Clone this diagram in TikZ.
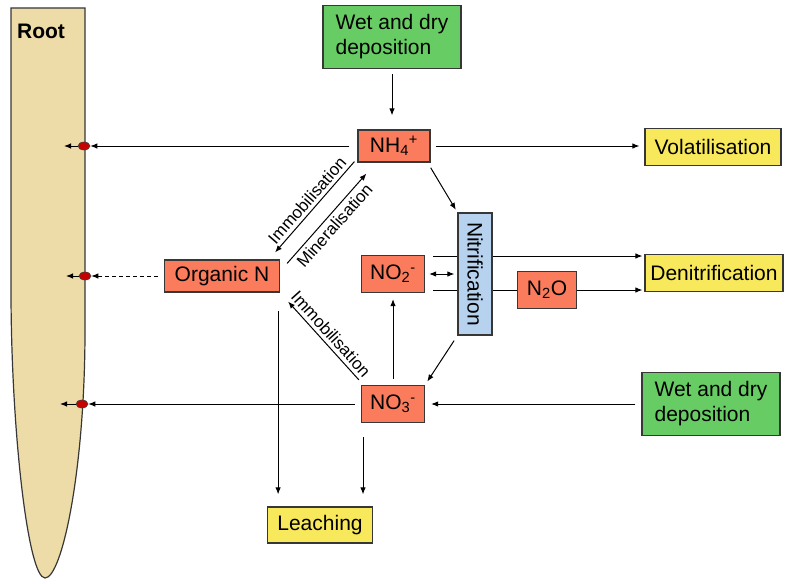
\documentclass[tikz,border=0pt]{standalone}
\usepackage{fontspec}
\setmainfont{Liberation Sans}
\usetikzlibrary{calc}
\usetikzlibrary{arrows.meta}
\usetikzlibrary{shapes.geometric}

\definecolor{rootfill}{RGB}{238,220,168}
\definecolor{wetgreen}{RGB}{104,204,100}
\definecolor{ionred}{RGB}{250,124,92}
\definecolor{lossyellow}{RGB}{248,232,92}
\definecolor{nitblue}{RGB}{182,210,238}
\definecolor{edgegray}{RGB}{55,55,55}

\tikzset{
  box/.style={draw=edgegray, line width=1.2pt, inner sep=0pt, font=\fontsize{21}{25}\selectfont, align=center},
  ion/.style={box, fill=ionred, minimum height=32pt},
  loss/.style={box, fill=lossyellow, minimum height=37pt},
  wet/.style={box, fill=wetgreen, minimum width=138pt, minimum height=63pt, align=left},
  flow/.style={-{Latex[length=7pt,width=5.5pt]}, line width=1pt},
  dot/.style={ellipse, draw=black!75, line width=0.6pt, fill=red!78!black, minimum width=12pt, minimum height=8pt, inner sep=0pt},
  proc/.style={font=\fontsize{17}{20}\selectfont, sloped, inner sep=3.5pt}
}

\begin{document}
\begin{tikzpicture}[x=1pt,y=-1pt]
\useasboundingbox (0,0) rectangle (786,583);

% the root
\draw[draw=edgegray, line width=1.2pt, fill=rootfill] (11,8) -- (85,8) -- (85,330)
  .. controls (85,470) and (62,578) .. (45,578)
  .. controls (28,578) and (11,430) .. (11,290) -- cycle;
\node[font=\bfseries\fontsize{21}{25}\selectfont] (root) at (41,31) {Root};

\node[dot] (d1) at (84,146) {};
\node[dot] (d2) at (85,276) {};
\node[dot] (d3) at (82,404) {};
\coordinate (u1) at (64,146);
\coordinate (u2) at (66,276);
\coordinate (u3) at (60,404);

% pools and fluxes
\node[wet] (wettop) at (392,37) {Wet and dry\\deposition};
\node[ion, minimum width=72pt] (nh4) at (394,146) {NH\textsubscript{4}\textsuperscript{+}};
\node[ion, minimum width=115pt] (orgn) at (222,276) {Organic N};
\node[ion, minimum width=63pt, minimum height=37pt] (no2) at (393,274) {NO\textsubscript{2}\textsuperscript{-}};
\node[ion, minimum width=63pt, minimum height=37pt] (no3) at (393,404) {NO\textsubscript{3}\textsuperscript{-}};
\node[ion, minimum width=59pt, minimum height=37pt] (n2o) at (547,290) {N\textsubscript{2}O};
\node[loss, minimum width=136pt] (vola) at (713,147) {Volatilisation};
\node[loss, minimum width=138pt] (deni) at (714,273) {Denitrification};
\node[loss, minimum width=105pt, minimum height=36pt] (leach) at (320,525) {Leaching};
\node[wet] (wetbot) at (711,404) {Wet and dry\\deposition};

% denitrification paths (behind the nitrification box)
\coordinate (nl1) at (433,256);
\coordinate (nl2) at (433,290);
\draw[flow, shorten >=2pt] (nl1) -- (nl1 -| deni.west);
\draw[line width=1pt] (nl2) -- (n2o.west);
\draw[flow, shorten >=2pt] (n2o.east) -- (n2o.east -| deni.west);

\node[box, fill=nitblue, minimum width=34pt, minimum height=122pt] (nit) at (475,274) {\rotatebox{-90}{Nitrification}};

\draw[flow, shorten <=5pt, shorten >=14pt] (wettop.south) -- (wettop.south |- nh4.north);
\draw[flow, shorten <=8pt] (nh4.west) -- (d1.east);
\draw[flow, shorten <=5pt, shorten >=5pt] (nh4.east) -- (nh4.east -| vola.west);
\draw[flow, shorten <=6pt, shorten >=3pt] ($(nh4.south east)+(-3,0)$) -- (nit.north west);

\draw[flow] ($(nh4.south west)+(-3,-1)$) -- node[proc, above] {Immobilisation} ($(orgn.north east)+(-5,-7)$);
\draw[flow] ($(orgn.north east)+(7,4)$) -- node[proc, below] {Mineralisation} ($(nh4.south west)+(9,11)$);
\draw[flow] ($(no3.north west)+(-2,-5)$) -- node[proc, above] {Immobilisation} ($(orgn.south east)+(8,9)$);

\draw[{Latex[length=7pt,width=5.5pt]}-{Latex[length=7pt,width=5.5pt]}, line width=1pt, shorten <=4pt, shorten >=3pt] (no2.east) -- (no2.east -| nit.west);
\draw[flow, shorten <=6pt, shorten >=4pt] (nit.south west) -- (no3.north east);
\draw[flow, shorten <=6pt, shorten >=6pt] (no3.north) -- (no2.south);

\draw[flow, dash pattern=on 4pt off 3pt, shorten <=6pt] (orgn.west) -- (d2.east);
\draw[flow, shorten <=6pt] (no3.west) -- (d3.east);
\draw[flow, shorten <=6pt, shorten >=6pt] (wetbot.west) -- (no3.east);

\draw[flow] (d1.west) -- (u1);
\draw[flow] (d2.west) -- (u2);
\draw[flow] (d3.west) -- (u3);

% leaching
\coordinate (oc) at ($(orgn.south east)+(-2,0)$);
\coordinate (nc) at ($(no3.south)+(-30,0)$);
\draw[flow, shorten <=18pt, shorten >=12pt] (oc) -- (oc |- leach.north);
\draw[flow, shorten <=14pt, shorten >=12pt] (nc) -- (nc |- leach.north);

\end{tikzpicture}
\end{document}
